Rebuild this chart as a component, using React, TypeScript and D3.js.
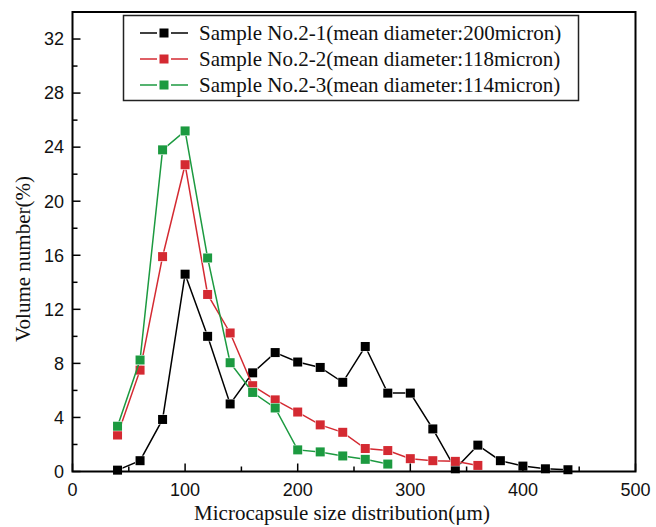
import React from "react";
import * as d3 from "d3";

const sizes1 = [40, 60, 80, 100, 120, 140, 160, 180, 200, 220, 240, 260, 280, 300, 320, 340, 360, 380, 400, 420, 440];
const values1 = [0.1, 0.8, 3.85, 14.6, 10.0, 5.0, 7.3, 8.8, 8.1, 7.7, 6.6, 9.25, 5.8, 5.8, 3.15, 0.2, 1.95, 0.8, 0.4, 0.2, 0.13];
const sizes2 = [40, 60, 80, 100, 120, 140, 160, 180, 200, 220, 240, 260, 280, 300, 320, 340, 360];
const values2 = [2.7, 7.5, 15.9, 22.7, 13.1, 10.25, 6.35, 5.3, 4.4, 3.45, 2.9, 1.7, 1.55, 0.95, 0.8, 0.75, 0.45];
const sizes3 = [40, 60, 80, 100, 120, 140, 160, 180, 200, 220, 240, 260, 280];
const values3 = [3.35, 8.25, 23.8, 25.2, 15.8, 8.05, 5.85, 4.7, 1.6, 1.45, 1.15, 0.9, 0.55];

const seriesNames = [
  "Sample No.2-1(mean diameter:200micron)",
  "Sample No.2-2(mean diameter:118micron)",
  "Sample No.2-3(mean diameter:114micron)",
];
const seriesColors = ["#000000", "#d42a32", "#1c9a40"];

const xTicks = [0, 100, 200, 300, 400, 500];
const xMinorTicks = [50, 150, 250, 350, 450];
const yTicks = [0, 4, 8, 12, 16, 20, 24, 28, 32];
const yMinorTicks = [2, 6, 10, 14, 18, 22, 26, 30, 34];

const xTitle = "Microcapsule size distribution(\u03bcm)";
const yTitle = "Volume number(%)";

export default function App() {
  const left = 72.5, right = 635.5, top = 12, bottom = 471.5;
  const x = d3.scaleLinear().domain([0, 500]).range([left, right]);
  const y = d3.scaleLinear().domain([0, 34]).range([bottom, top]);

  const series = [
    { xs: sizes1, ys: values1 },
    { xs: sizes2, ys: values2 },
    { xs: sizes3, ys: values3 },
  ];
  const line = d3
    .line<[number, number]>()
    .x((d) => x(d[0]))
    .y((d) => y(d[1]));

  const ms = 9;
  const serif = "'Liberation Serif', 'Times New Roman', serif";
  const sans = "'Liberation Sans', Arial, sans-serif";

  const legX = 123.5, legY = 15.5, legW = 455, legH = 85;

  return (
    <svg
      width={656}
      height={527}
      style={{ position: "absolute", left: 0, top: 0, background: "#fff" }}
    >
      <rect x={0} y={0} width={656} height={527} fill="#fff" />

      {/* series */}
      {series.map((s, i) => {
        const pts: [number, number][] = s.xs.map((v, j) => [v, s.ys[j]]);
        return (
          <g key={"s" + i}>
            <path d={line(pts) || ""} fill="none" stroke={seriesColors[i]} strokeWidth={1.5} />
            {pts.map((p, j) => (
              <rect
                key={j}
                x={x(p[0]) - ms / 2}
                y={y(p[1]) - ms / 2}
                width={ms}
                height={ms}
                fill={seriesColors[i]}
                stroke="#fff"
                strokeWidth={1}
                paintOrder="stroke"
              />
            ))}
          </g>
        );
      })}

      {/* frame */}
      <rect x={left} y={top} width={right - left} height={bottom - top} fill="none" stroke="#000" strokeWidth={2} />

      {/* x ticks */}
      {xTicks.map((t) => (
        <g key={"xt" + t}>
          <line x1={x(t)} x2={x(t)} y1={bottom} y2={bottom - 8} stroke="#000" strokeWidth={1.5} />
          <text x={x(t)} y={496} textAnchor="middle" fontFamily={sans} fontSize={18} fill="#111">
            {t}
          </text>
        </g>
      ))}
      {xMinorTicks.map((t) => (
        <line key={"xm" + t} x1={x(t)} x2={x(t)} y1={bottom} y2={bottom - 5} stroke="#000" strokeWidth={1.5} />
      ))}
      {/* y ticks */}
      {yTicks.map((t) => (
        <g key={"yt" + t}>
          <line x1={left} x2={left + 8} y1={y(t)} y2={y(t)} stroke="#000" strokeWidth={1.5} />
          <text x={64} y={y(t)} dy="0.35em" textAnchor="end" fontFamily={sans} fontSize={18} fill="#111">
            {t}
          </text>
        </g>
      ))}
      {yMinorTicks.map((t) => (
        <line key={"ym" + t} x1={left} x2={left + 5} y1={y(t)} y2={y(t)} stroke="#000" strokeWidth={1.5} />
      ))}

      {/* titles */}
      <text x={342} y={520} textAnchor="middle" fontFamily={serif} fontSize={21} fill="#111">
        {xTitle}
      </text>
      <text
        transform={`translate(30,259) rotate(-90)`}
        textAnchor="middle"
        fontFamily={serif}
        fontSize={21}
        fill="#111"
      >
        {yTitle}
      </text>

      {/* legend */}
      <rect x={legX} y={legY} width={legW} height={legH} fill="#fff" stroke="#222" strokeWidth={1.5} />
      {seriesNames.map((n, i) => {
        const cy = 33 + i * 26;
        return (
          <g key={"l" + i}>
            <line x1={140} x2={157} y1={cy} y2={cy} stroke={seriesColors[i]} strokeWidth={1.5} />
            <line x1={171} x2={188} y1={cy} y2={cy} stroke={seriesColors[i]} strokeWidth={1.5} />
            <rect x={164 - ms / 2} y={cy - ms / 2} width={ms} height={ms} fill={seriesColors[i]} />
            <text x={199} y={cy} dy="0.35em" fontFamily={serif} fontSize={21} fill="#111">
              {n}
            </text>
          </g>
        );
      })}
    </svg>
  );
}
